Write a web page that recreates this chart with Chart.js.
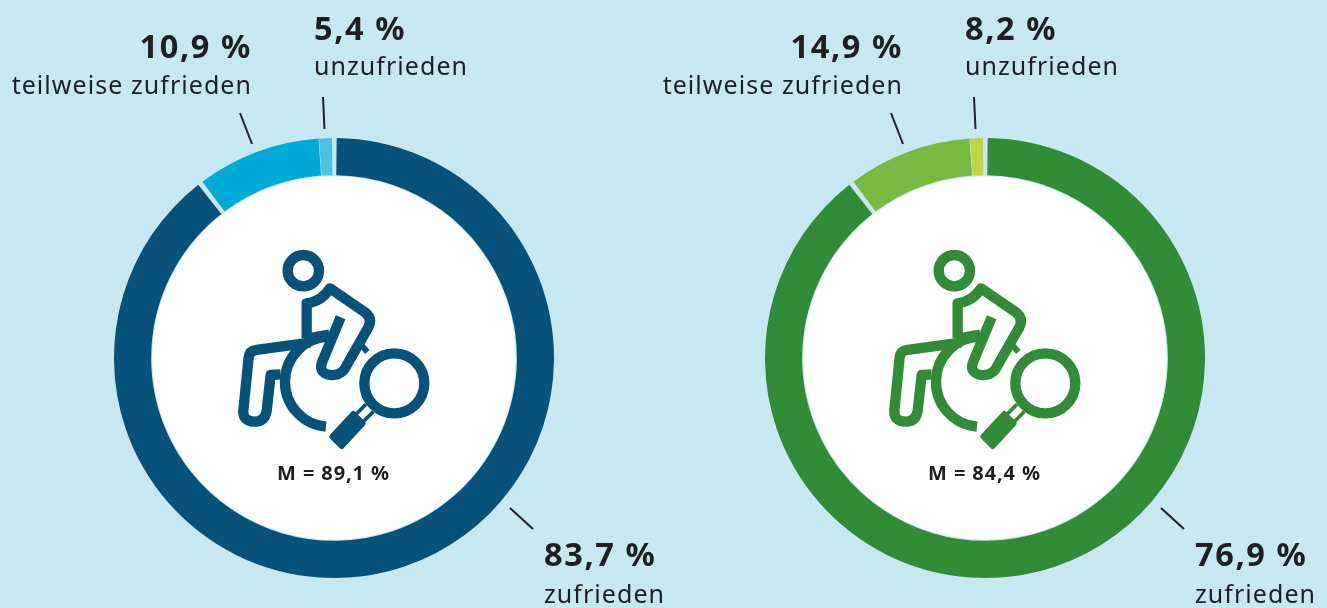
<!DOCTYPE html>
<html lang="de">
<head>
<meta charset="utf-8">
<title>Zufriedenheit</title>
<script src="https://cdn.jsdelivr.net/npm/chart.js@4"></script>
<style>
    html, body { margin: 0; padding: 0; background: #c7e8f0; overflow: hidden; }
    #page { position: relative; width: 1327px; height: 608px; }
    canvas { position: absolute; top: 138px; }
    #chartLeft { left: 113.5px; }
    #chartRight { left: 764.5px; }
    #overlay { position: absolute; left: 0; top: 0; }
    text { font-family: "Noto Sans", sans-serif; fill: #1f1f23; }
    .value { font-size: 32.5px; font-weight: 700; letter-spacing: 1.6px; }
    .cat { font-size: 25px; letter-spacing: 1.05px; }
    .mean { font-size: 20px; font-weight: 700; letter-spacing: 0.9px; }
    line { stroke: #1f1f23; stroke-width: 2; }
</style>
</head>
<body>
<div id="page">
    <canvas id="chartLeft" width="440" height="440"></canvas>
    <canvas id="chartRight" width="440" height="440"></canvas>
    <svg id="overlay" width="1327" height="608" xmlns="http://www.w3.org/2000/svg">
        <defs>
            <g id="icon" fill="none" stroke="currentColor" stroke-width="31" stroke-linejoin="round">
                <circle cx="220" cy="92" r="47"/>
                <path d="M230 295 V190 Q275 185 300 145 L398 212 Q430 232 415 262 L342 390 Q325 408 300 405 Q262 398 278 362 L332 232"/>
                <path d="M240 308 L80 330 Q58 333 56 352 L40 512 Q38 543 72 545 Q105 545 110 512 L122 405 L152 403"/>
                <path d="M232 296 L298 284"/>
                <path d="M296 290 A135 135 0 0 0 165 425 A135 135 0 0 0 288 560"/>
                <path d="M388 308 L412 336" stroke-width="18"/>
                <circle cx="493" cy="430" r="90"/>
                <path d="M408 493 L379 522 M430 515 L401 544" stroke-width="11"/>
                <path d="M370 521 L399 550 L335 619 L306 590 Z" fill="currentColor" stroke-width="16"/>
            </g>
        </defs>
    </svg>
</div>
<script>
"use strict";

const categories = ['zufrieden', 'teilweise zufrieden', 'unzufrieden'];

// percentages as printed next to the rings
const leftValues = [83.7, 10.9, 5.4];
const rightValues = [76.9, 14.9, 8.2];
const leftMean = 89.1;
const rightMean = 84.4;

// the arcs in the picture do not follow the printed numbers, these are the shares as measured on the rings
const leftArcs = [89.9, 9.15, 0.95];
const rightArcs = [89.9, 9.15, 0.95];

const leftColors = ['#07527a', '#00acd7', '#4dc3e3'];
const rightColors = ['#318b37', '#7ab941', '#bdd642'];

// white middle of the ring, taken from the arc the library worked out
const whiteCenter = {
    id: 'whiteCenter',
    beforeDatasetsDraw(chart) {
        const arc = chart.getDatasetMeta(0).data[0];
        const c = chart.ctx;
        c.save();
        c.fillStyle = '#ffffff';
        c.beginPath();
        c.arc(arc.x, arc.y, arc.innerRadius + 0.5, 0, Math.PI * 2);
        c.fill();
        c.restore();
    }
};

function ring(id, arcs, colors) {
    return new Chart(document.getElementById(id), {
        type: 'doughnut',
        data: {
            labels: categories,
            datasets: [{
                data: arcs,
                backgroundColor: colors,
                borderWidth: 0,
                hoverOffset: 0,
                spacing: 3
            }]
        },
        options: {
            responsive: false,
            animation: false,
            cutout: '83%',
            rotation: -0.5,
            layout: { padding: 0 },
            events: [],
            plugins: {
                legend: { display: false },
                tooltip: { enabled: false }
            }
        },
        plugins: [whiteCenter]
    });
}

ring('chartLeft', leftArcs, leftColors);
ring('chartRight', rightArcs, rightColors);

// end of charts

const svg = document.getElementById('overlay');
const NS = 'http://www.w3.org/2000/svg';

function add(tag, attrs, str) {
    const el = document.createElementNS(NS, tag);
    Object.keys(attrs).forEach(k => el.setAttribute(k, attrs[k]));
    if (str) el.textContent = str;
    svg.appendChild(el);
    return el;
}

function pct(v) {
    return v.toFixed(1).replace('.', ',') + ' %';
}

function panel(dx, values, mean, color, midX, botX) {
    add('text', { class: 'value', x: botX, y: 566 }, pct(values[0]));
    add('text', { class: 'cat', x: botX, y: 603 }, categories[0]);
    add('text', { class: 'value', x: 252 + dx, y: 58, 'text-anchor': 'end' }, pct(values[1]));
    add('text', { class: 'cat', x: 252 + dx, y: 94, 'text-anchor': 'end' }, categories[1]);
    add('text', { class: 'value', x: midX, y: 40 }, pct(values[2]));
    add('text', { class: 'cat', x: midX, y: 75 }, categories[2]);
    add('text', { class: 'mean', x: 333.5 + dx, y: 480, 'text-anchor': 'middle' }, 'M = ' + pct(mean));

    add('line', { x1: 240 + dx, y1: 113, x2: 252 + dx, y2: 144 });
    add('line', { x1: 323 + dx, y1: 97, x2: 324.5 + dx, y2: 129 });
    add('line', { x1: 510 + dx, y1: 508, x2: 533 + dx, y2: 529 });

    const use = add('use', { href: '#icon', transform: 'translate(' + (230 + dx) + ' 240) scale(0.3333)' });
    use.style.color = color;
}

panel(0, leftValues, leftMean, leftColors[0], 314, 544);
panel(651, rightValues, rightMean, rightColors[0], 965, 1195);
</script>
</body>
</html>
